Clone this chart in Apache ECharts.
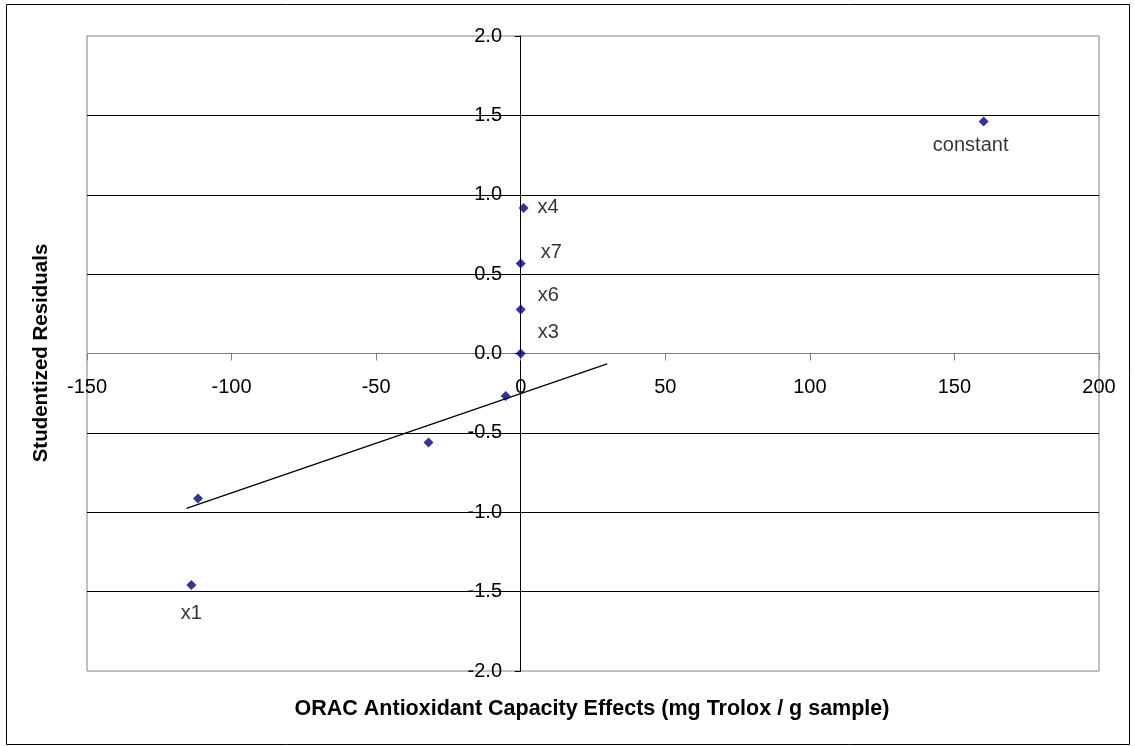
<!DOCTYPE html>
<html>
<head>
<meta charset="utf-8">
<script src="https://cdn.jsdelivr.net/npm/echarts@6/dist/echarts.min.js"></script>
<style>
html,body{margin:0;padding:0;background:#fff;}
#chart{width:1135px;height:746px;}
</style>
</head>
<body>
<div id="chart"></div>
<script>
// ---- data ----
const pointX = [160.1, 1.0, 0, 0, 0, -5.2, -31.9, -111.6, -113.9];
const pointY = [1.461, 0.917, 0.567, 0.277, 0.0, -0.267, -0.56, -0.913, -1.459];
const pointNames = ['constant', 'x4', 'x7', 'x6', 'x3', '', '', '', 'x1'];
const trendX = [-115.6, 29.9];
const trendY = [-0.976, -0.065];
const xTitle = 'ORAC Antioxidant Capacity Effects (mg Trolox / g sample)';
const yTitle = 'Studentized Residuals';

// ---- label placement (style, not data) ----
const labelPlacement = {
  'constant': {align: 'center', offset: [-13, 24]},
  'x4': {align: 'left', offset: [14, 0]},
  'x7': {align: 'left', offset: [20, -11]},
  'x6': {align: 'left', offset: [17, -14]},
  'x3': {align: 'left', offset: [17, -21]},
  'x1': {align: 'center', offset: [0, 28]}
};

const FONT = '"Liberation Sans", Arial, sans-serif';
const scatterData = pointX.map((x, i) => {
  const name = pointNames[i];
  const item = {value: [x, pointY[i]], name: name};
  if (name && labelPlacement[name]) {
    item.label = {
      show: true,
      position: 'inside',
      formatter: name,
      align: labelPlacement[name].align,
      verticalAlign: 'middle',
      offset: labelPlacement[name].offset,
      color: '#000',
      fontSize: 20,
      fontFamily: FONT
    };
  }
  return item;
});

const chart = echarts.init(document.getElementById('chart'), null, {renderer: 'canvas'});
chart.setOption({
  animation: false,
  backgroundColor: '#fff',
  grid: {
    left: 87, right: 36, top: 36, bottom: 75,
    show: true, borderColor: '#808080', borderWidth: 1, backgroundColor: '#fff'
  },
  xAxis: {
    type: 'value', min: -150, max: 200, interval: 50,
    axisLine: {show: true, onZero: true, lineStyle: {color: '#808080', width: 1}},
    axisTick: {show: true, inside: false, length: 7, lineStyle: {color: '#808080'}},
    axisLabel: {color: '#000', fontSize: 20, fontFamily: FONT, margin: -294},
    splitLine: {show: false}
  },
  yAxis: {
    type: 'value', min: -2, max: 2, interval: 0.5,
    axisLine: {show: true, onZero: true, lineStyle: {color: '#000', width: 1}},
    axisTick: {show: true, inside: false, length: 6, lineStyle: {color: '#000'}},
    axisLabel: {color: '#000', fontSize: 20, fontFamily: FONT, margin: -415,
      formatter: v => v.toFixed(1)},
    splitLine: {show: true, showMinLine: false, showMaxLine: false,
      lineStyle: {color: '#000', width: 1}}
  },
  series: [
    {
      type: 'line',
      data: trendX.map((x, i) => [x, trendY[i]]),
      symbol: 'none',
      lineStyle: {color: '#000', width: 1.3},
      z: 3
    },
    {
      type: 'scatter',
      data: scatterData,
      symbol: 'diamond',
      symbolSize: 10,
      itemStyle: {color: '#000080'},
      z: 4
    }
  ],
  graphic: [
    {type: 'rect', shape: {x: 6.5, y: 4.5, width: 1123, height: 740}, style: {fill: 'none', stroke: '#000', lineWidth: 1}, z: 100, silent: true},
    {type: 'text', x: 592, y: 709, style: {text: xTitle, font: 'bold 21.5px ' + FONT, fill: '#000', align: 'center', verticalAlign: 'middle'}},
    {type: 'text', x: 41, y: 353, rotation: Math.PI / 2, style: {text: yTitle, font: 'bold 20.5px ' + FONT, fill: '#000', align: 'center', verticalAlign: 'middle'}}
  ]
});
</script>
</body>
</html>
